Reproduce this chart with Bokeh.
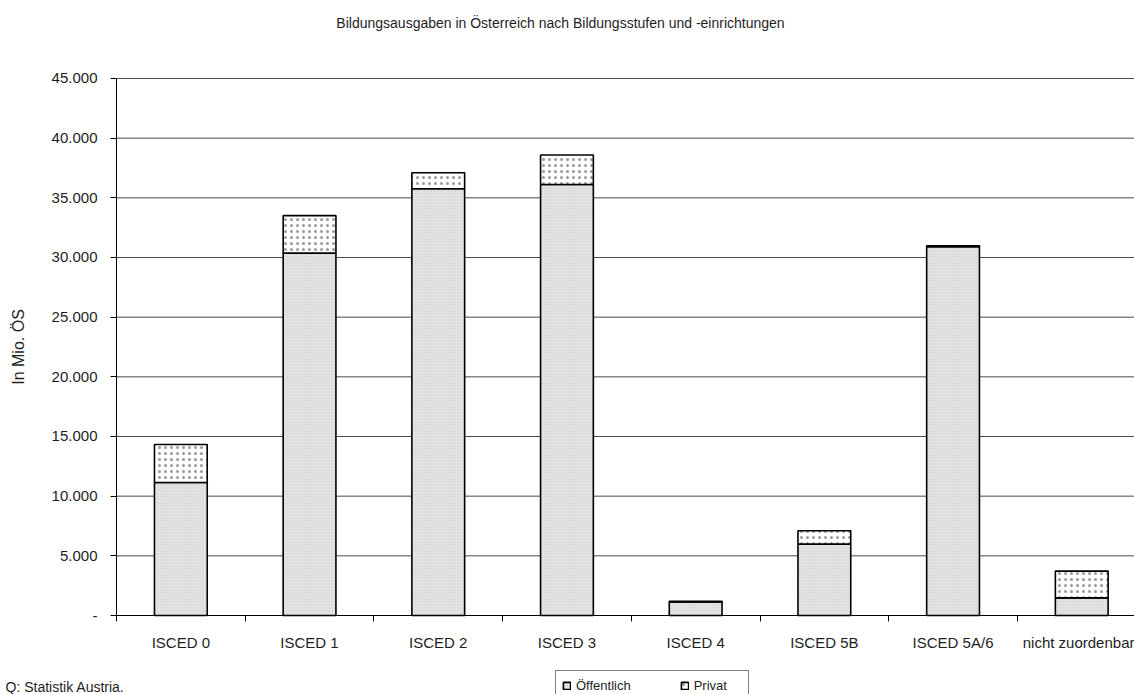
from bokeh.plotting import figure
from bokeh.models import Range1d, FixedTicker, Label, Legend, LegendItem
from bokeh.embed import file_html
from bokeh.resources import INLINE

# ---- data (Mio. ÖS) ----
categories = ["ISCED 0", "ISCED 1", "ISCED 2", "ISCED 3", "ISCED 4",
              "ISCED 5B", "ISCED 5A/6", "nicht zuordenbar"]
oeffentlich = [11150, 30370, 35760, 36120, 1130, 5980, 30900, 1480]
privat = [3180, 3140, 1340, 2470, 70, 1120, 80, 2240]
y_ticks = [0, 5000, 10000, 15000, 20000, 25000, 30000, 35000, 40000, 45000]

title_text = "Bildungsausgaben in Österreich nach Bildungsstufen und -einrichtungen"
source_text = "Q: Statistik Austria."
y_label = "In Mio. ÖS"

FONT = "Liberation Sans"
TXT = "#1e1e1e"

x_pos = [i + 0.5 for i in range(len(categories))]
bounds = [float(i) for i in range(len(categories) + 1)]

# frame covers the whole canvas; axes are drawn at fixed locations inside it
X0, X1 = -0.9013, 7.9098
Y0, Y1 = -6620, 51536
p = figure(width=1134, height=694, output_backend="svg", toolbar_location=None,
           x_range=Range1d(X0, X1), y_range=Range1d(Y0, Y1),
           min_border=0, min_border_left=0, min_border_right=0,
           min_border_top=0, min_border_bottom=0)
p.outline_line_color = None
p.background_fill_color = "white"
p.border_fill_color = "white"
p.xgrid.visible = False
p.ygrid.visible = False

# horizontal grid lines from the tick list
gy = y_ticks[1:]
p.segment(x0=[0] * len(gy), x1=[X1] * len(gy), y0=gy, y1=gy,
          line_color="#4a4a4a", line_width=1)

src = dict(x=x_pos, oeffentlich=oeffentlich, privat=privat)
r = p.vbar_stack(["oeffentlich", "privat"], x="x", width=0.41, source=src,
                 color=["#e4e4e4", "white"], line_color="black", line_width=1.6)
r[0].glyph.hatch_pattern = "dot"
r[0].glyph.hatch_color = "#cdcdcd"
r[0].glyph.hatch_scale = 3
r[1].glyph.hatch_pattern = "dot"
r[1].glyph.hatch_color = "#9a9a9a"
r[1].glyph.hatch_scale = 6
r[1].glyph.hatch_weight = 1

# y axis
ya = p.yaxis[0]
ya.fixed_location = 0
ya.bounds = (0, 45000)
ya.ticker = FixedTicker(ticks=y_ticks)
ya.major_label_overrides = {v: ("-" if v == 0 else f"{v:,}".replace(",", ".")) for v in y_ticks}
ya.axis_line_color = "black"
ya.major_tick_line_color = "black"
ya.major_tick_out = 6
ya.major_tick_in = 0
ya.minor_tick_line_color = None
ya.major_label_text_font = FONT
ya.major_label_text_font_size = "15px"
ya.major_label_text_color = TXT
ya.major_label_standoff = 13
ya.axis_label = y_label
ya.axis_label_text_font = FONT
ya.axis_label_text_font_size = "16px"
ya.axis_label_text_font_style = "normal"
ya.axis_label_text_color = TXT
ya.axis_label_standoff = 22

# x axis
xa = p.xaxis[0]
xa.fixed_location = 0
xa.bounds = (0, X1)
xa.ticker = FixedTicker(ticks=x_pos, minor_ticks=bounds)
xa.major_label_overrides = {x: c for x, c in zip(x_pos, categories)}
xa.axis_line_color = "black"
xa.major_tick_line_color = None
xa.major_tick_out = 0
xa.major_tick_in = 0
xa.minor_tick_line_color = "black"
xa.minor_tick_out = 6
xa.minor_tick_in = 0
xa.major_label_text_font = FONT
xa.major_label_text_font_size = "15px"
xa.major_label_text_color = TXT
xa.major_label_standoff = 12

# title and source note
p.add_layout(Label(x=560, y=672, x_units="screen", y_units="screen", text=title_text,
                   text_align="center", text_baseline="middle", text_font=FONT,
                   text_font_size="14px", text_color=TXT))
p.add_layout(Label(x=5, y=8, x_units="screen", y_units="screen", text=source_text,
                   text_align="left", text_baseline="middle", text_font=FONT,
                   text_font_size="14px", text_color=TXT))

legend = Legend(items=[LegendItem(label="Öffentlich", renderers=[r[0]]),
                       LegendItem(label="Privat", renderers=[r[1]])],
                location=(555, -6), orientation="horizontal",
                label_text_font=FONT, label_text_font_size="13px", label_text_color=TXT,
                glyph_width=9, glyph_height=9, label_height=16, label_width=48,
                label_standoff=5, spacing=49, padding=6, margin=0,
                border_line_color="black", border_line_width=1,
                background_fill_color="white", background_fill_alpha=1)
p.add_layout(legend)

open("out.html", "w").write(file_html(p, INLINE))
